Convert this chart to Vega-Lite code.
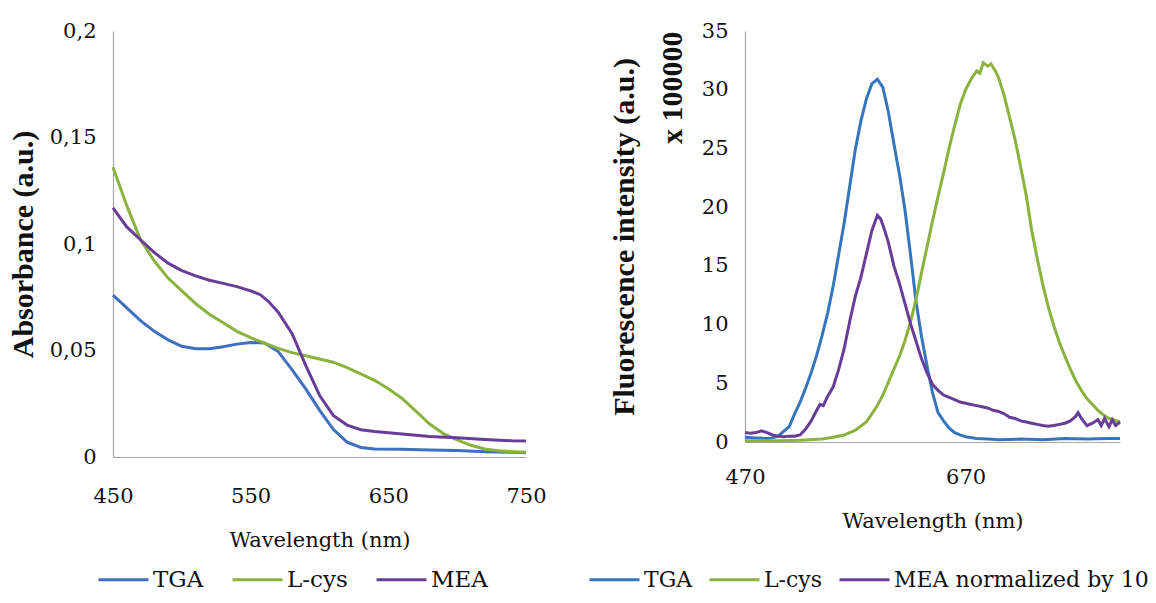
{
  "$schema": "https://vega.github.io/schema/vega-lite/v6.json",
  "background": "white",
  "padding": {"left": 8, "top": 20, "right": 0, "bottom": 0},
  "config": {
    "view": {"stroke": null},
    "font": "DejaVu Serif",
    "axis": {"grid": false, "ticks": false, "domainColor": "#A6A6A6", "domainWidth": 1.2, "labelFont": "DejaVu Serif", "labelFontSize": 21, "labelColor": "#111111", "titleFont": "DejaVu Serif", "titleColor": "#111111", "titleFontSize": 21, "titleFontWeight": "normal", "labelFlush": false},
    "legend": {"orient": "none", "direction": "horizontal", "symbolType": "stroke", "symbolSize": 2500, "symbolStrokeWidth": 3, "labelFont": "DejaVu Serif", "labelFontSize": 23, "labelColor": "#111111", "columnPadding": 20, "labelOffset": 3, "labelLimit": 400}
  },
  "datasets": {
    "abs": [
      {"wl": 450, "A": 0.076, "s": "TGA"}, {"wl": 460, "A": 0.070, "s": "TGA"}, {"wl": 470, "A": 0.064, "s": "TGA"}, {"wl": 480, "A": 0.059, "s": "TGA"}, {"wl": 490, "A": 0.055, "s": "TGA"}, {"wl": 500, "A": 0.052, "s": "TGA"}, {"wl": 510, "A": 0.0508, "s": "TGA"}, {"wl": 520, "A": 0.0508, "s": "TGA"}, {"wl": 530, "A": 0.0518, "s": "TGA"}, {"wl": 540, "A": 0.053, "s": "TGA"}, {"wl": 550, "A": 0.0538, "s": "TGA"}, {"wl": 560, "A": 0.0535, "s": "TGA"}, {"wl": 570, "A": 0.0495, "s": "TGA"}, {"wl": 580, "A": 0.041, "s": "TGA"}, {"wl": 590, "A": 0.032, "s": "TGA"}, {"wl": 600, "A": 0.022, "s": "TGA"}, {"wl": 610, "A": 0.013, "s": "TGA"}, {"wl": 620, "A": 0.007, "s": "TGA"}, {"wl": 630, "A": 0.0045, "s": "TGA"}, {"wl": 640, "A": 0.0038, "s": "TGA"}, {"wl": 660, "A": 0.0036, "s": "TGA"}, {"wl": 680, "A": 0.0033, "s": "TGA"}, {"wl": 700, "A": 0.003, "s": "TGA"}, {"wl": 720, "A": 0.0025, "s": "TGA"}, {"wl": 740, "A": 0.0022, "s": "TGA"}, {"wl": 750, "A": 0.002, "s": "TGA"},
      {"wl": 450, "A": 0.136, "s": "L-cys"}, {"wl": 460, "A": 0.118, "s": "L-cys"}, {"wl": 470, "A": 0.102, "s": "L-cys"}, {"wl": 480, "A": 0.092, "s": "L-cys"}, {"wl": 490, "A": 0.084, "s": "L-cys"}, {"wl": 500, "A": 0.078, "s": "L-cys"}, {"wl": 510, "A": 0.072, "s": "L-cys"}, {"wl": 520, "A": 0.067, "s": "L-cys"}, {"wl": 530, "A": 0.063, "s": "L-cys"}, {"wl": 540, "A": 0.059, "s": "L-cys"}, {"wl": 550, "A": 0.056, "s": "L-cys"}, {"wl": 560, "A": 0.0535, "s": "L-cys"}, {"wl": 570, "A": 0.051, "s": "L-cys"}, {"wl": 580, "A": 0.049, "s": "L-cys"}, {"wl": 590, "A": 0.0475, "s": "L-cys"}, {"wl": 600, "A": 0.046, "s": "L-cys"}, {"wl": 610, "A": 0.0445, "s": "L-cys"}, {"wl": 620, "A": 0.042, "s": "L-cys"}, {"wl": 630, "A": 0.039, "s": "L-cys"}, {"wl": 640, "A": 0.036, "s": "L-cys"}, {"wl": 650, "A": 0.032, "s": "L-cys"}, {"wl": 660, "A": 0.0275, "s": "L-cys"}, {"wl": 670, "A": 0.0215, "s": "L-cys"}, {"wl": 680, "A": 0.0155, "s": "L-cys"}, {"wl": 690, "A": 0.011, "s": "L-cys"}, {"wl": 700, "A": 0.008, "s": "L-cys"}, {"wl": 710, "A": 0.0055, "s": "L-cys"}, {"wl": 720, "A": 0.0038, "s": "L-cys"}, {"wl": 730, "A": 0.0029, "s": "L-cys"}, {"wl": 740, "A": 0.0025, "s": "L-cys"}, {"wl": 750, "A": 0.0022, "s": "L-cys"},
      {"wl": 450, "A": 0.117, "s": "MEA"}, {"wl": 460, "A": 0.108, "s": "MEA"}, {"wl": 470, "A": 0.102, "s": "MEA"}, {"wl": 480, "A": 0.096, "s": "MEA"}, {"wl": 490, "A": 0.091, "s": "MEA"}, {"wl": 500, "A": 0.0875, "s": "MEA"}, {"wl": 510, "A": 0.085, "s": "MEA"}, {"wl": 520, "A": 0.083, "s": "MEA"}, {"wl": 530, "A": 0.0815, "s": "MEA"}, {"wl": 540, "A": 0.080, "s": "MEA"}, {"wl": 550, "A": 0.078, "s": "MEA"}, {"wl": 557, "A": 0.0762, "s": "MEA"}, {"wl": 563, "A": 0.073, "s": "MEA"}, {"wl": 570, "A": 0.068, "s": "MEA"}, {"wl": 580, "A": 0.058, "s": "MEA"}, {"wl": 590, "A": 0.043, "s": "MEA"}, {"wl": 600, "A": 0.029, "s": "MEA"}, {"wl": 610, "A": 0.0195, "s": "MEA"}, {"wl": 620, "A": 0.015, "s": "MEA"}, {"wl": 630, "A": 0.0128, "s": "MEA"}, {"wl": 640, "A": 0.012, "s": "MEA"}, {"wl": 660, "A": 0.0108, "s": "MEA"}, {"wl": 680, "A": 0.0096, "s": "MEA"}, {"wl": 700, "A": 0.009, "s": "MEA"}, {"wl": 720, "A": 0.0082, "s": "MEA"}, {"wl": 740, "A": 0.0076, "s": "MEA"}, {"wl": 750, "A": 0.0075, "s": "MEA"}
    ],
    "fl": [
      {"wl": 470, "I": 0.4, "s": "TGA"}, {"wl": 480, "I": 0.35, "s": "TGA"}, {"wl": 490, "I": 0.3, "s": "TGA"}, {"wl": 495, "I": 0.35, "s": "TGA"}, {"wl": 500, "I": 0.5, "s": "TGA"}, {"wl": 505, "I": 0.9, "s": "TGA"}, {"wl": 510, "I": 1.3, "s": "TGA"}, {"wl": 515, "I": 2.4, "s": "TGA"}, {"wl": 520, "I": 3.4, "s": "TGA"}, {"wl": 525, "I": 4.6, "s": "TGA"}, {"wl": 530, "I": 5.9, "s": "TGA"}, {"wl": 535, "I": 7.4, "s": "TGA"}, {"wl": 540, "I": 9.1, "s": "TGA"}, {"wl": 545, "I": 11.0, "s": "TGA"}, {"wl": 550, "I": 13.3, "s": "TGA"}, {"wl": 555, "I": 16.0, "s": "TGA"}, {"wl": 560, "I": 18.7, "s": "TGA"}, {"wl": 565, "I": 21.8, "s": "TGA"}, {"wl": 570, "I": 24.9, "s": "TGA"}, {"wl": 575, "I": 27.3, "s": "TGA"}, {"wl": 580, "I": 29.2, "s": "TGA"}, {"wl": 585, "I": 30.5, "s": "TGA"}, {"wl": 590, "I": 30.9, "s": "TGA"}, {"wl": 595, "I": 30.2, "s": "TGA"}, {"wl": 600, "I": 28.1, "s": "TGA"}, {"wl": 605, "I": 25.4, "s": "TGA"}, {"wl": 610, "I": 22.8, "s": "TGA"}, {"wl": 615, "I": 19.8, "s": "TGA"}, {"wl": 620, "I": 16.0, "s": "TGA"}, {"wl": 625, "I": 12.0, "s": "TGA"}, {"wl": 630, "I": 9.0, "s": "TGA"}, {"wl": 635, "I": 6.5, "s": "TGA"}, {"wl": 640, "I": 4.2, "s": "TGA"}, {"wl": 645, "I": 2.5, "s": "TGA"}, {"wl": 650, "I": 1.8, "s": "TGA"}, {"wl": 655, "I": 1.2, "s": "TGA"}, {"wl": 660, "I": 0.8, "s": "TGA"}, {"wl": 665, "I": 0.6, "s": "TGA"}, {"wl": 670, "I": 0.45, "s": "TGA"}, {"wl": 680, "I": 0.3, "s": "TGA"}, {"wl": 690, "I": 0.25, "s": "TGA"}, {"wl": 700, "I": 0.2, "s": "TGA"}, {"wl": 720, "I": 0.25, "s": "TGA"}, {"wl": 740, "I": 0.2, "s": "TGA"}, {"wl": 760, "I": 0.3, "s": "TGA"}, {"wl": 780, "I": 0.25, "s": "TGA"}, {"wl": 800, "I": 0.3, "s": "TGA"}, {"wl": 810, "I": 0.3, "s": "TGA"},
      {"wl": 470, "I": 0.1, "s": "L-cys"}, {"wl": 500, "I": 0.1, "s": "L-cys"}, {"wl": 520, "I": 0.15, "s": "L-cys"}, {"wl": 540, "I": 0.25, "s": "L-cys"}, {"wl": 550, "I": 0.4, "s": "L-cys"}, {"wl": 560, "I": 0.6, "s": "L-cys"}, {"wl": 570, "I": 1.0, "s": "L-cys"}, {"wl": 580, "I": 1.7, "s": "L-cys"}, {"wl": 585, "I": 2.4, "s": "L-cys"}, {"wl": 590, "I": 3.1, "s": "L-cys"}, {"wl": 595, "I": 4.0, "s": "L-cys"}, {"wl": 600, "I": 5.1, "s": "L-cys"}, {"wl": 605, "I": 6.2, "s": "L-cys"}, {"wl": 610, "I": 7.3, "s": "L-cys"}, {"wl": 615, "I": 8.6, "s": "L-cys"}, {"wl": 620, "I": 10.2, "s": "L-cys"}, {"wl": 625, "I": 12.1, "s": "L-cys"}, {"wl": 630, "I": 14.4, "s": "L-cys"}, {"wl": 635, "I": 16.6, "s": "L-cys"}, {"wl": 640, "I": 18.8, "s": "L-cys"}, {"wl": 645, "I": 20.9, "s": "L-cys"}, {"wl": 650, "I": 22.9, "s": "L-cys"}, {"wl": 655, "I": 25.0, "s": "L-cys"}, {"wl": 660, "I": 26.9, "s": "L-cys"}, {"wl": 665, "I": 28.7, "s": "L-cys"}, {"wl": 670, "I": 30.0, "s": "L-cys"}, {"wl": 675, "I": 30.9, "s": "L-cys"}, {"wl": 680, "I": 31.6, "s": "L-cys"}, {"wl": 683, "I": 31.4, "s": "L-cys"}, {"wl": 686, "I": 32.3, "s": "L-cys"}, {"wl": 690, "I": 32.0, "s": "L-cys"}, {"wl": 693, "I": 32.2, "s": "L-cys"}, {"wl": 697, "I": 31.6, "s": "L-cys"}, {"wl": 700, "I": 31.0, "s": "L-cys"}, {"wl": 705, "I": 29.5, "s": "L-cys"}, {"wl": 710, "I": 27.6, "s": "L-cys"}, {"wl": 715, "I": 25.7, "s": "L-cys"}, {"wl": 720, "I": 23.4, "s": "L-cys"}, {"wl": 725, "I": 21.0, "s": "L-cys"}, {"wl": 730, "I": 18.0, "s": "L-cys"}, {"wl": 735, "I": 15.6, "s": "L-cys"}, {"wl": 740, "I": 13.4, "s": "L-cys"}, {"wl": 745, "I": 11.5, "s": "L-cys"}, {"wl": 750, "I": 9.9, "s": "L-cys"}, {"wl": 755, "I": 8.5, "s": "L-cys"}, {"wl": 760, "I": 7.3, "s": "L-cys"}, {"wl": 765, "I": 6.2, "s": "L-cys"}, {"wl": 770, "I": 5.2, "s": "L-cys"}, {"wl": 775, "I": 4.4, "s": "L-cys"}, {"wl": 780, "I": 3.7, "s": "L-cys"}, {"wl": 785, "I": 3.2, "s": "L-cys"}, {"wl": 790, "I": 2.7, "s": "L-cys"}, {"wl": 795, "I": 2.3, "s": "L-cys"}, {"wl": 800, "I": 2.0, "s": "L-cys"}, {"wl": 805, "I": 1.85, "s": "L-cys"}, {"wl": 810, "I": 1.7, "s": "L-cys"},
      {"wl": 470, "I": 0.8, "s": "MEA normalized by 10"}, {"wl": 475, "I": 0.75, "s": "MEA normalized by 10"}, {"wl": 480, "I": 0.8, "s": "MEA normalized by 10"}, {"wl": 485, "I": 0.95, "s": "MEA normalized by 10"}, {"wl": 490, "I": 0.8, "s": "MEA normalized by 10"}, {"wl": 495, "I": 0.6, "s": "MEA normalized by 10"}, {"wl": 500, "I": 0.5, "s": "MEA normalized by 10"}, {"wl": 505, "I": 0.45, "s": "MEA normalized by 10"}, {"wl": 510, "I": 0.5, "s": "MEA normalized by 10"}, {"wl": 515, "I": 0.5, "s": "MEA normalized by 10"}, {"wl": 520, "I": 0.6, "s": "MEA normalized by 10"}, {"wl": 525, "I": 1.1, "s": "MEA normalized by 10"}, {"wl": 530, "I": 1.8, "s": "MEA normalized by 10"}, {"wl": 535, "I": 2.7, "s": "MEA normalized by 10"}, {"wl": 538, "I": 3.2, "s": "MEA normalized by 10"}, {"wl": 541, "I": 3.1, "s": "MEA normalized by 10"}, {"wl": 545, "I": 3.9, "s": "MEA normalized by 10"}, {"wl": 550, "I": 4.7, "s": "MEA normalized by 10"}, {"wl": 555, "I": 6.2, "s": "MEA normalized by 10"}, {"wl": 560, "I": 8.0, "s": "MEA normalized by 10"}, {"wl": 565, "I": 10.3, "s": "MEA normalized by 10"}, {"wl": 570, "I": 12.4, "s": "MEA normalized by 10"}, {"wl": 575, "I": 14.0, "s": "MEA normalized by 10"}, {"wl": 580, "I": 16.0, "s": "MEA normalized by 10"}, {"wl": 585, "I": 18.0, "s": "MEA normalized by 10"}, {"wl": 590, "I": 19.3, "s": "MEA normalized by 10"}, {"wl": 593, "I": 19.0, "s": "MEA normalized by 10"}, {"wl": 596, "I": 18.2, "s": "MEA normalized by 10"}, {"wl": 600, "I": 17.0, "s": "MEA normalized by 10"}, {"wl": 605, "I": 15.0, "s": "MEA normalized by 10"}, {"wl": 610, "I": 13.5, "s": "MEA normalized by 10"}, {"wl": 615, "I": 11.8, "s": "MEA normalized by 10"}, {"wl": 620, "I": 10.1, "s": "MEA normalized by 10"}, {"wl": 625, "I": 8.6, "s": "MEA normalized by 10"}, {"wl": 630, "I": 7.1, "s": "MEA normalized by 10"}, {"wl": 635, "I": 5.9, "s": "MEA normalized by 10"}, {"wl": 640, "I": 4.9, "s": "MEA normalized by 10"}, {"wl": 645, "I": 4.4, "s": "MEA normalized by 10"}, {"wl": 650, "I": 4.0, "s": "MEA normalized by 10"}, {"wl": 655, "I": 3.8, "s": "MEA normalized by 10"}, {"wl": 660, "I": 3.6, "s": "MEA normalized by 10"}, {"wl": 665, "I": 3.4, "s": "MEA normalized by 10"}, {"wl": 670, "I": 3.3, "s": "MEA normalized by 10"}, {"wl": 675, "I": 3.2, "s": "MEA normalized by 10"}, {"wl": 680, "I": 3.1, "s": "MEA normalized by 10"}, {"wl": 685, "I": 3.0, "s": "MEA normalized by 10"}, {"wl": 690, "I": 2.9, "s": "MEA normalized by 10"}, {"wl": 695, "I": 2.7, "s": "MEA normalized by 10"}, {"wl": 700, "I": 2.6, "s": "MEA normalized by 10"}, {"wl": 705, "I": 2.4, "s": "MEA normalized by 10"}, {"wl": 710, "I": 2.1, "s": "MEA normalized by 10"}, {"wl": 715, "I": 2.0, "s": "MEA normalized by 10"}, {"wl": 720, "I": 1.8, "s": "MEA normalized by 10"}, {"wl": 725, "I": 1.7, "s": "MEA normalized by 10"}, {"wl": 730, "I": 1.6, "s": "MEA normalized by 10"}, {"wl": 735, "I": 1.5, "s": "MEA normalized by 10"}, {"wl": 740, "I": 1.4, "s": "MEA normalized by 10"}, {"wl": 745, "I": 1.35, "s": "MEA normalized by 10"}, {"wl": 750, "I": 1.4, "s": "MEA normalized by 10"}, {"wl": 755, "I": 1.5, "s": "MEA normalized by 10"}, {"wl": 760, "I": 1.6, "s": "MEA normalized by 10"}, {"wl": 765, "I": 1.8, "s": "MEA normalized by 10"}, {"wl": 770, "I": 2.2, "s": "MEA normalized by 10"}, {"wl": 772, "I": 2.5, "s": "MEA normalized by 10"}, {"wl": 775, "I": 2.0, "s": "MEA normalized by 10"}, {"wl": 780, "I": 1.4, "s": "MEA normalized by 10"}, {"wl": 785, "I": 1.6, "s": "MEA normalized by 10"}, {"wl": 790, "I": 1.9, "s": "MEA normalized by 10"}, {"wl": 793, "I": 1.4, "s": "MEA normalized by 10"}, {"wl": 796, "I": 2.0, "s": "MEA normalized by 10"}, {"wl": 800, "I": 1.3, "s": "MEA normalized by 10"}, {"wl": 803, "I": 1.9, "s": "MEA normalized by 10"}, {"wl": 806, "I": 1.4, "s": "MEA normalized by 10"}, {"wl": 810, "I": 1.7, "s": "MEA normalized by 10"}
    ]
  },
  "spacing": 41,
  "resolve": {"scale": {"color": "independent"}, "legend": {"color": "independent"}},
  "hconcat": [
    {
      "width": 413,
      "height": 426,
      "data": {"name": "abs"},
      "mark": {"type": "line", "strokeWidth": 3},
      "encoding": {
        "x": {"field": "wl", "type": "quantitative", "scale": {"domain": [450, 750], "nice": false, "zero": false}, "axis": {"values": [450, 550, 650, 750], "title": "Wavelength (nm)", "labelPadding": 28, "titlePadding": 23}},
        "y": {"field": "A", "type": "quantitative", "scale": {"domain": [0, 0.2], "nice": false}, "axis": {"values": [0, 0.05, 0.1, 0.15, 0.2], "labelExpr": "replace(toString(datum.value), '.', ',')", "title": "Absorbance (a.u.)", "titleFont": "Liberation Serif", "titleFontWeight": "bold", "titleFontSize": 30, "labelPadding": 17, "titlePadding": 11}},
        "color": {"field": "s", "type": "nominal", "scale": {"domain": ["TGA", "L-cys", "MEA"], "range": ["#3E6FC1", "#8AB23C", "#673D98"]}, "legend": {"title": null, "legendX": -16, "legendY": 522, "columnPadding": 22}}
      }
    },
    {
      "width": 375,
      "height": 411,
      "data": {"name": "fl"},
      "resolve": {"axis": {"y": "independent"}},
      "layer": [
        {
          "transform": [{"filter": "datum.s !== 'MEA normalized by 10'"}],
          "mark": {"type": "line", "strokeWidth": 3},
          "encoding": {
            "x": {"field": "wl", "type": "quantitative", "scale": {"domain": [470, 810], "nice": false, "zero": false}, "axis": {"values": [470, 670], "title": "Wavelength (nm)", "labelPadding": 24, "titlePadding": 23}},
            "y": {"field": "I", "type": "quantitative", "scale": {"domain": [0, 35], "nice": false}, "axis": {"orient": "left", "values": [0, 5, 10, 15, 20, 25, 30, 35], "title": "Fluorescence intensity (a.u.)", "titleFont": "Liberation Serif", "titleFontWeight": "bold", "titleFontSize": 30, "labelPadding": 17, "titlePadding": 62}},
            "color": {"field": "s", "type": "nominal", "scale": {"domain": ["TGA", "L-cys", "MEA normalized by 10"], "range": ["#3575BE", "#8AB23C", "#673D98"]}, "legend": {"title": null, "legendX": -157, "legendY": 522, "columnPadding": 10, "labelFontSize": 22}}
          }
        },
        {
          "transform": [{"filter": "datum.s === 'MEA normalized by 10'"}],
          "mark": {"type": "line", "strokeWidth": 3},
          "encoding": {
            "x": {"field": "wl", "type": "quantitative"},
            "y": {"field": "I", "type": "quantitative", "axis": {"orient": "left", "title": "x 100000", "labels": false, "domain": false, "ticks": false, "titleAnchor": "end", "titleFont": "Liberation Serif", "titleFontWeight": "bold", "titleFontSize": 30, "titlePadding": 58}},
            "color": {"field": "s", "type": "nominal"}
          }
        }
      ]
    }
  ]
}
